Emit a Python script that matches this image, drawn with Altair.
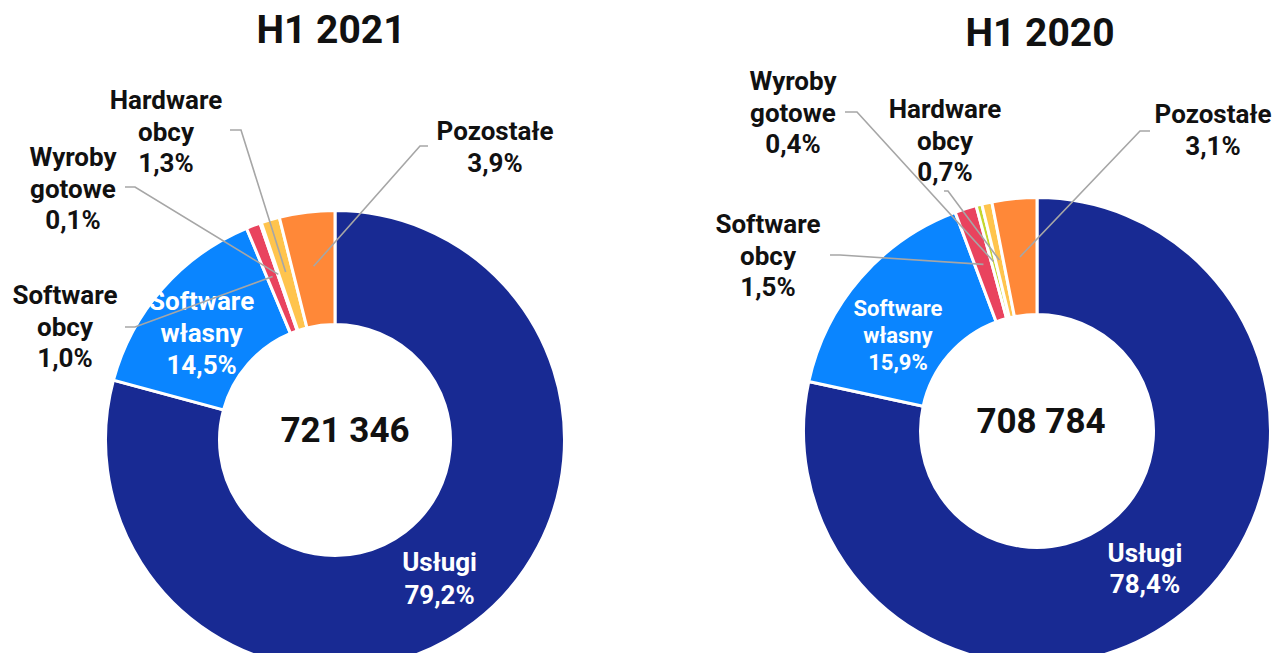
import math
import altair as alt
import pandas as pd

# ---------------- data ----------------
categories = ["Usługi", "Software własny", "Software obcy", "Wyroby gotowe", "Hardware obcy", "Pozostałe"]
share_2021 = [79.2, 14.5, 1.0, 0.1, 1.3, 3.9]
share_2020 = [78.4, 15.9, 1.5, 0.4, 0.7, 3.1]
periods = ["H1 2021", "H1 2020"]
totals = [721346, 708784]
palette = ["#182A93", "#0A85FF", "#E9435E", "#C5D62E", "#FFC44D", "#FF8838"]


def pct(v):
    return f"{v:.1f}".replace(".", ",") + "%"


def label(cat, v):
    return "\n".join(cat.split(" ") + [pct(v)])


def thousands(n):
    return f"{n:,}".replace(",", " ")


rows = []
for p, shares in zip(periods, [share_2021, share_2020]):
    for i, (c, v) in enumerate(zip(categories, shares)):
        rows.append(dict(period=p, cat=c, idx=i, value=v, label=label(c, v)))
df = pd.DataFrame(rows)

# ---------------- layout (page pixels) ----------------
OFF = 8
FONT = "Roboto"
OUT_SIZE = 26
OUT_LH = 31.5
layout = {
    "H1 2021": dict(
        cx=335, cy=440, ro=229.5, ri=115.5, rm=175,
        title=(331, 31), total=(345, 431),
        # dx/dy: shift of the label block centre from the slice mid-point
        inner={"Usługi": dict(size=26, lh=33, dx=0, dy=2.5),
               "Software własny": dict(size=26, lh=32, dx=-4, dy=7)},
        # text: centre x and first-line y of the label
        outer={"Software obcy": dict(text=(65, 296), start=(125, 327), elbow=(135, 327)),
               "Wyroby gotowe": dict(text=(73, 158), start=(125, 187), elbow=(135, 187)),
               "Hardware obcy": dict(text=(166, 101), start=(230, 130), elbow=(241, 130)),
               "Pozostałe": dict(text=(495, 132), start=(428, 146), elbow=(420, 146))},
    ),
    "H1 2020": dict(
        cx=1037, cy=431, ro=233.5, ri=116.5, rm=175,
        title=(1040, 34), total=(1041, 422),
        inner={"Usługi": dict(size=26, lh=31, dx=0, dy=4.5),
               "Software własny": dict(size=22, lh=27, dx=-9, dy=18)},
        outer={"Software obcy": dict(text=(768, 225), start=(830, 255), elbow=(840, 255)),
               "Wyroby gotowe": dict(text=(793, 82), start=(845, 112), elbow=(857, 112)),
               "Hardware obcy": dict(text=(945, 110), start=(944, 191), elbow=(948, 191)),
               "Pozostałe": dict(text=(1213, 115), start=(1150, 131), elbow=(1140, 131))},
    ),
}

# leader lines & outer label table (ends computed from the slice mid-angles)
lead_rows, outer_rows, head_rows, total_rows = [], [], [], []
for p, shares, tot in zip(periods, [share_2021, share_2020], totals):
    L = layout[p]
    s = sum(shares)
    cum = 0.0
    for c, v in zip(categories, shares):
        mid = (cum + v / 2) / s * 2 * math.pi
        cum += v
        if c in L["outer"]:
            o = L["outer"][c]
            ex = L["cx"] + L["rm"] * math.sin(mid)
            ey = L["cy"] - L["rm"] * math.cos(mid)
            pts = [o["start"], o["elbow"], (ex, ey)]
            for k, (x, y) in enumerate(pts):
                lead_rows.append(dict(id=f"{p}-{c}", k=k, x=x - OFF, y=y - OFF))
            outer_rows.append(dict(x=o["text"][0] - OFF, y=o["text"][1] - OFF, text=label(c, v)))
    head_rows.append(dict(x=L["title"][0] - OFF, y=L["title"][1] - OFF, text=p))
    total_rows.append(dict(x=L["total"][0] - OFF, y=L["total"][1] - OFF, text=thousands(tot)))

color_enc = alt.Color("cat:N", scale=alt.Scale(domain=categories, range=palette), legend=None)
theta_enc = alt.Theta("value:Q", stack=True)
order_enc = alt.Order("idx:Q", sort="ascending")

layers = []
for p in periods:
    L = layout[p]
    base = alt.Chart(df).transform_filter(alt.datum.period == p)
    layers.append(
        base.mark_arc(outerRadius=L["ro"], innerRadius=L["ri"], stroke="white", strokeWidth=3).encode(
            theta=theta_enc, order=order_enc, color=color_enc,
            x=alt.value(L["cx"] - OFF), y=alt.value(L["cy"] - OFF),
        )
    )
    for cat, st in L["inner"].items():
        n_lines = len(cat.split(" ")) + 1
        layers.append(
            base.transform_calculate(t=f"datum.cat == '{cat}' ? datum.label : ''")
            .mark_text(radius=172, font=FONT, fontWeight="bold", fontSize=st["size"], color="white",
                       lineBreak="\n", lineHeight=st["lh"], align="center", baseline="middle",
                       dx=st["dx"], dy=st["dy"] - (n_lines - 1) / 2 * st["lh"])
            .encode(theta=theta_enc, order=order_enc, text="t:N",
                    x=alt.value(L["cx"] - OFF), y=alt.value(L["cy"] - OFF))
        )

xs = alt.X("x:Q", scale=None, axis=None)
ys = alt.Y("y:Q", scale=None, axis=None)

leaders = alt.Chart(pd.DataFrame(lead_rows)).mark_line(color="#A6A6A6", strokeWidth=1.6).encode(
    x=xs, y=ys, detail="id:N", order="k:Q")
outer_text = alt.Chart(pd.DataFrame(outer_rows)).mark_text(
    font=FONT, fontWeight="bold", fontSize=OUT_SIZE, color="#111111", lineBreak="\n", lineHeight=OUT_LH,
    align="center", baseline="middle").encode(x=xs, y=ys, text="text:N")
heads = alt.Chart(pd.DataFrame(head_rows)).mark_text(
    font=FONT, fontWeight="bold", fontSize=39, color="#111111", align="center", baseline="middle"
).encode(x=xs, y=ys, text="text:N")
tot_text = alt.Chart(pd.DataFrame(total_rows)).mark_text(
    font=FONT, fontWeight="bold", fontSize=35, color="#111111", align="center", baseline="middle"
).encode(x=xs, y=ys, text="text:N")

chart = alt.layer(*layers, leaders, outer_text, heads, tot_text).properties(
    width=1266, height=645, padding=0, background="white",
    autosize=alt.AutoSizeParams(type="none"),
).configure_view(strokeWidth=0, stroke="transparent")

chart.save("out.html", embed_options={"renderer": "svg", "actions": False})
